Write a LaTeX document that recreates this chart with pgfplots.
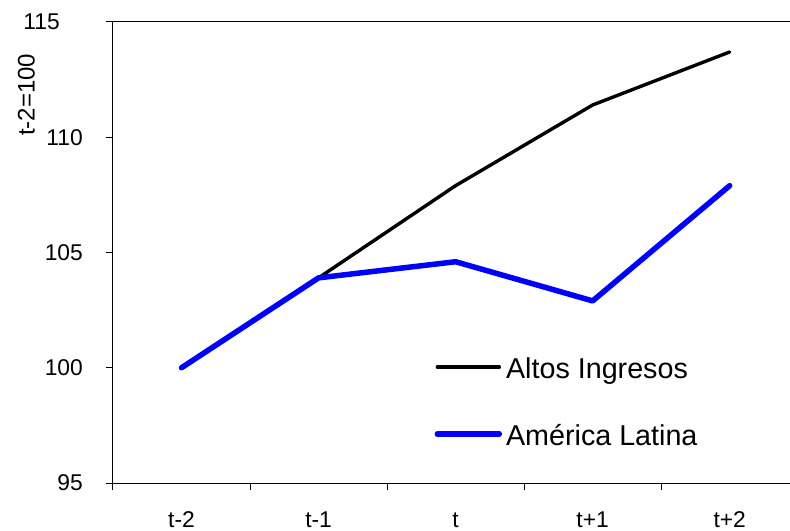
\documentclass[border=0pt]{standalone}
\usepackage{fontspec}
\setmainfont{Liberation Sans}
\usepackage{pgfplots}
\pgfplotsset{compat=1.18}
\begin{document}
\begin{tikzpicture}
\begin{axis}[name=ax,
  scale only axis, width=677bp, height=461bp,
  xmin=-0.5, xmax=4.44, ymin=95, ymax=115,
  axis x line=bottom, axis y line=left,
  axis line style={-, line width=1bp, black},
  tick align=outside, major tick length=7bp,
  tick style={black, line width=1bp},
  xtick={-0.5,0.5,1.5,2.5,3.5}, xticklabels={},
  extra x ticks={0,1,2,3,4},
  extra x tick labels={t-2,t-1,t,t+1,t+2},
  extra x tick style={major tick length=0pt,
    tick label style={anchor=base, yshift=-44bp, inner sep=0pt}},
  ytick={95,100,105,110},
  extra y ticks={115}, extra y tick labels={115},
  extra y tick style={ymajorgrids=true, major grid style={black, line width=1bp},
    yticklabel style={anchor=east, inner sep=0pt, xshift=-23bp}},
  /pgf/number format/assume math mode=true,
  ticklabel style={font=\fontsize{22.8bp}{26bp}\selectfont},
  yticklabel style={anchor=east, inner sep=0pt, xshift=-23bp},
  ylabel={t-2=100},
  ylabel style={at={(axis description cs:-0.1152,0.842)}, anchor=south,
    inner sep=0pt, font=\fontsize{24bp}{28bp}\selectfont},
  legend image code/.code={\draw[#1, line cap=round] (0bp,4bp) -- (62bp,4bp);},
  legend style={at={(axis cs:1.845,100.47)}, anchor=north west,
    draw=none, fill=none, inner sep=0pt, row sep=39bp, column sep=4bp,
    nodes={inner sep=0pt, text height=21bp, text depth=7bp,
      font=\fontsize{28.7bp}{32bp}\selectfont}},
  legend cell align=left,
]
\addplot[black, line width=3.4bp, line cap=round, line join=round]
  coordinates {(0,100) (1,103.9) (2,107.9) (3,111.4) (4,113.7)};
\addlegendentry{Altos Ingresos}
\addplot[blue, line width=5.5bp, line cap=round, line join=round]
  coordinates {(0,100) (1,103.9) (2,104.6) (3,102.9) (4,107.9)};
\addlegendentry{América Latina}
\end{axis}
\pgfresetboundingbox
\path (ax.south west) ++(-113bp,-48bp) rectangle ++(790bp,531bp);
\end{tikzpicture}
\end{document}
